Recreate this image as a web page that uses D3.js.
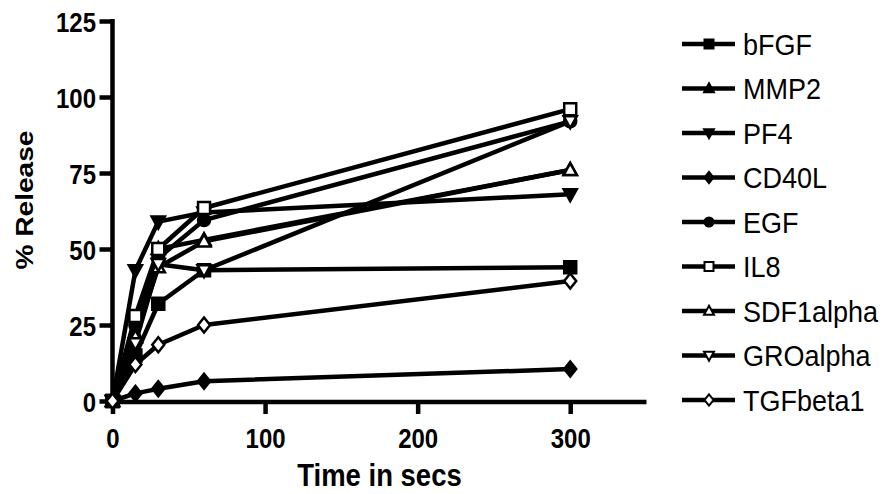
<!DOCTYPE html>
<html><head><meta charset="utf-8">
<script src="https://cdn.jsdelivr.net/npm/d3@7"></script>
<style>body{margin:0;background:#fff}svg{display:block}text{font-family:"Liberation Sans",Arial,sans-serif;fill:#000}</style>
</head><body><svg id="c" width="890" height="494"></svg>
<script>
const times = [0, 15, 30, 60, 300];
const seriesNames = ["bFGF","MMP2","PF4","CD40L","EGF","IL8","SDF1alpha","GROalpha","TGFbeta1"];
const bFGF      = [0, 15, 32, 43, 44];
const MMP2      = [0, 22, 50, 53, 76];
const PF4       = [0, 43, 59, 62, 68];
const CD40L     = [0, 2.5, 4, 6.5, 10.5];
const EGF       = [0, 25, 47, 59.5, 92];
const IL8       = [0, 28, 50, 63.5, 96];
const SDF1alpha = [0, 21, 44, 52.5, 76];
const GROalpha  = [0, 19, 45, 43, 92];
const TGFbeta1  = [0, 12, 18.5, 25, 39.5];
const seriesValues = [bFGF, MMP2, PF4, CD40L, EGF, IL8, SDF1alpha, GROalpha, TGFbeta1];
const markerShapes = ["square","triUp","triDown","diamond","circle","square","triUp","triDown","diamond"];
const markerFilled = [true,true,true,true,true,false,false,false,false];
const xTicks = [0, 100, 200, 300];
const yTicks = [0, 25, 50, 75, 100, 125];

const svg = d3.select("#c");
const x = d3.scaleLinear().domain([0, 350]).range([112.5, 646.5]);
const y = d3.scaleLinear().domain([0, 125]).range([401, 21]);
const STRETCH = 1.17;

function shapePath(s, r){
  if(s==="square") return `M${-r},${-r}H${r}V${r}H${-r}Z`;
  if(s==="triUp") return `M0,${-r*1.15}L${r*1.1},${r*0.85}H${-r*1.1}Z`;
  if(s==="triDown") return `M0,${r*1.15}L${r*1.1},${-r*0.85}H${-r*1.1}Z`;
  if(s==="diamond") return `M0,${-r*1.25}L${r},0L0,${r*1.25}L${-r},0Z`;
  if(s==="circle") return `M${r},0A${r},${r} 0 1,1 ${-r},0A${r},${r} 0 1,1 ${r},0Z`;
}

// axes
const xAxis = d3.axisBottom(x).tickValues(xTicks).tickSize(12).tickPadding(8).tickFormat(d3.format("d"));
const yAxis = d3.axisLeft(y).tickValues(yTicks).tickSize(13).tickPadding(4).tickFormat(d3.format("d"));
const gx = svg.append("g").attr("transform","translate(0,402)").call(xAxis);
const gy = svg.append("g").attr("transform","translate(112.5,0)").call(yAxis);
[gx,gy].forEach(g=>{
  g.select(".domain").attr("stroke","#000").attr("stroke-width",4.5);
  g.selectAll(".tick line").attr("stroke","#000").attr("stroke-width",4.5);
  g.selectAll(".tick text").attr("font-size",24).attr("font-weight","bold")
   .style("font-family",'"Liberation Sans",Arial,sans-serif');
});
gx.select(".domain").attr("d",`M${x(0)-2},0H${x(350)}`);
gy.select(".domain").attr("d",`M0,${y(0)+2}V${y(125)-2}`);
gx.selectAll(".tick text").attr("y",0).attr("dy",0)
  .attr("transform",`translate(0,46) scale(1,${STRETCH})`);
gy.selectAll(".tick text").attr("x",0).attr("dy","0.36em")
  .attr("transform",`translate(-16.5,0) scale(1,${STRETCH})`);

// lines
const line = d3.line().x((d,i)=>x(times[i])).y(d=>y(d));
const plot = svg.append("g");
seriesValues.forEach((vals,k)=>{
  plot.append("path").attr("d",line(vals)).attr("fill","none").attr("stroke","#000")
    .attr("stroke-width",4.5).attr("stroke-linejoin","round");
});
seriesValues.forEach((vals,k)=>{
  plot.selectAll(null).data(vals).enter().append("path")
    .attr("transform",(d,i)=>`translate(${x(times[i])},${y(d)})`)
    .attr("d",shapePath(markerShapes[k],6))
    .attr("fill",markerFilled[k]?"#000":"#fff").attr("stroke","#000").attr("stroke-width",2.5);
});

// axis titles
svg.append("text").attr("transform",`translate(${x(175)},486) scale(1,${STRETCH})`).attr("text-anchor","middle")
  .attr("font-size",27.5).attr("font-weight","bold").text("Time in secs");
svg.append("text").attr("transform",`translate(33,200) rotate(-90) scale(${STRETCH},1)`).attr("text-anchor","middle")
  .attr("font-size",24).attr("font-weight","bold").text("% Release");

// legend
const leg = svg.append("g");
seriesNames.forEach((n,k)=>{
  const ly = 44 + k*44.5;
  leg.append("line").attr("x1",682).attr("x2",735).attr("y1",ly).attr("y2",ly).attr("stroke","#000").attr("stroke-width",4.5);
  leg.append("path").attr("transform",`translate(709,${ly})`).attr("d",shapePath(markerShapes[k],4.5))
    .attr("fill",markerFilled[k]?"#000":"#fff").attr("stroke","#000").attr("stroke-width",2);
  leg.append("text").attr("transform",`translate(743,${ly}) scale(1,1.08)`).attr("dy","0.36em")
    .attr("font-size",27).text(n);
});
</script></body></html>
